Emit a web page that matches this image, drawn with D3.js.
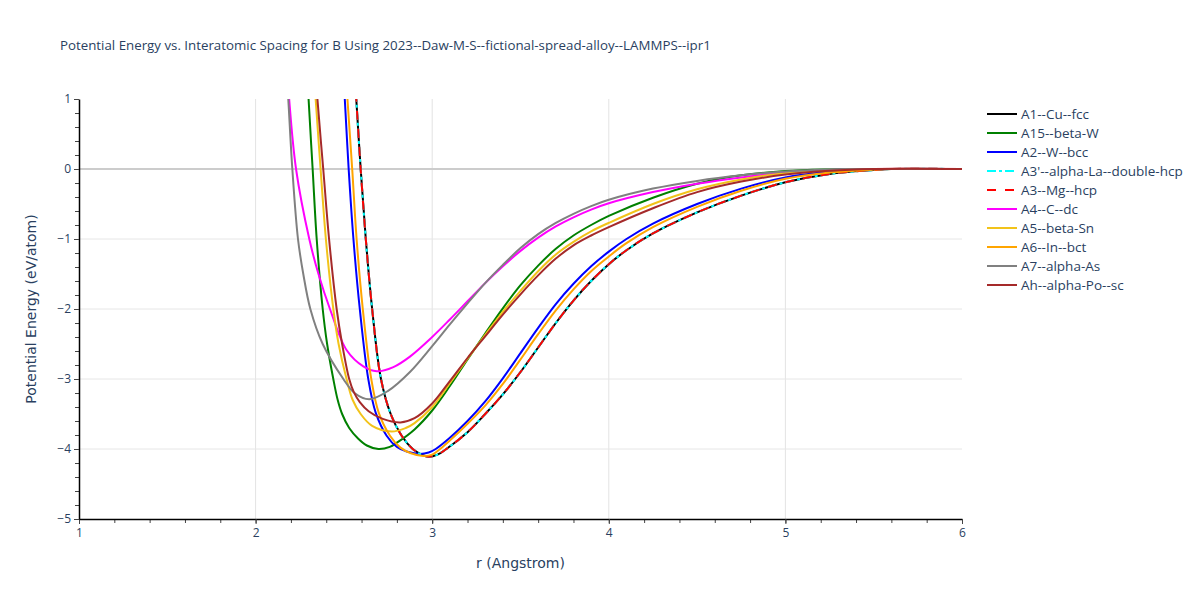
<!DOCTYPE html>
<html>
<head>
<meta charset="utf-8">
<script src="https://cdn.jsdelivr.net/npm/d3@7"></script>
<style>
  body { margin: 0; background: #fff; }
  text { font-family: "Open Sans", "Liberation Sans", sans-serif; fill: #2a3f5f; }
</style>
</head>
<body>
<script>
const w = 1200; // width
const h = 600;  // height
const m = {left: 79, right: 238, top: 99, bottom: 81};

// curve data, [r (Angstrom), energy (eV/atom)]
const cuFcc = [[2.555,1.6],[2.57,1.0],[2.595,0.0],[2.624,-1.0],[2.66,-2.0],[2.71,-3.0],[2.765,-3.5],[2.827,-3.81],[2.89,-4.0],[2.94,-4.08],[2.98,-4.11],[3.03,-4.08],[3.08,-4.0],[3.2,-3.76],[3.3,-3.5],[3.4,-3.22],[3.5,-2.9],[3.6,-2.55],[3.7,-2.2],[3.8,-1.88],[3.9,-1.6],[4.0,-1.36],[4.1,-1.16],[4.25,-0.92],[4.5,-0.62],[4.75,-0.38],[5.0,-0.19],[5.25,-0.07],[5.5,-0.015],[5.6,0],[6.0,0]];
const betaW = [[2.29,1.6],[2.30,1.0],[2.323,0.0],[2.346,-1.0],[2.38,-2.0],[2.405,-2.5],[2.44,-3.0],[2.465,-3.3],[2.49,-3.5],[2.53,-3.7],[2.58,-3.85],[2.63,-3.95],[2.695,-4.0],[2.76,-3.97],[2.8,-3.91],[2.9,-3.72],[3.0,-3.45],[3.1,-3.1],[3.2,-2.72],[3.3,-2.35],[3.4,-1.99],[3.5,-1.66],[3.6,-1.38],[3.7,-1.14],[3.8,-0.95],[3.9,-0.8],[4.0,-0.67],[4.25,-0.41],[4.5,-0.21],[4.75,-0.09],[5.0,-0.03],[5.25,-0.006],[5.4,0],[6.0,0]];
const wBcc = [[2.49,1.6],[2.505,1.0],[2.527,0.0],[2.554,-1.0],[2.59,-2.0],[2.638,-3.0],[2.68,-3.48],[2.742,-3.81],[2.8,-3.97],[2.86,-4.04],[2.93,-4.07],[2.98,-4.05],[3.02,-4.0],[3.1,-3.84],[3.2,-3.6],[3.3,-3.32],[3.4,-2.99],[3.5,-2.63],[3.6,-2.27],[3.7,-1.93],[3.8,-1.64],[3.9,-1.39],[4.0,-1.18],[4.1,-1.0],[4.25,-0.78],[4.5,-0.5],[4.75,-0.28],[5.0,-0.12],[5.25,-0.04],[5.5,-0.005],[5.6,0],[6.0,0]];
const laDhcp = cuFcc.map(d => d.slice());
const mgHcp = cuFcc.map(d => d.slice());
const cDc = [[2.175,1.6],[2.19,1.0],[2.229,0.0],[2.304,-1.0],[2.356,-1.5],[2.421,-2.0],[2.516,-2.59],[2.61,-2.82],[2.686,-2.89],[2.78,-2.83],[2.874,-2.68],[3.0,-2.4],[3.1,-2.15],[3.2,-1.89],[3.3,-1.63],[3.4,-1.39],[3.5,-1.17],[3.6,-0.98],[3.7,-0.82],[3.8,-0.69],[3.9,-0.58],[4.0,-0.49],[4.25,-0.33],[4.5,-0.21],[4.75,-0.12],[5.0,-0.055],[5.25,-0.015],[5.5,0],[6.0,0]];
const betaSn = [[2.325,1.6],[2.34,1.0],[2.368,0.0],[2.398,-1.0],[2.44,-2.0],[2.47,-2.5],[2.515,-3.0],[2.55,-3.3],[2.595,-3.5],[2.66,-3.67],[2.77,-3.75],[2.85,-3.7],[2.9,-3.63],[3.0,-3.4],[3.1,-3.06],[3.2,-2.71],[3.3,-2.37],[3.4,-2.04],[3.5,-1.74],[3.6,-1.46],[3.7,-1.22],[3.8,-1.04],[3.9,-0.89],[4.0,-0.77],[4.25,-0.5],[4.5,-0.29],[4.75,-0.15],[5.0,-0.06],[5.25,-0.02],[5.5,0],[6.0,0]];
const inBct = [[2.505,1.6],[2.52,1.0],[2.547,0.0],[2.572,-1.0],[2.607,-2.0],[2.655,-3.0],[2.697,-3.48],[2.761,-3.81],[2.82,-3.98],[2.88,-4.06],[2.95,-4.1],[3.0,-4.08],[3.045,-4.0],[3.1,-3.88],[3.2,-3.64],[3.3,-3.38],[3.4,-3.07],[3.5,-2.72],[3.6,-2.36],[3.7,-2.02],[3.8,-1.72],[3.9,-1.46],[4.0,-1.25],[4.1,-1.06],[4.25,-0.83],[4.5,-0.54],[4.75,-0.31],[5.0,-0.14],[5.25,-0.05],[5.5,-0.008],[5.6,0],[6.0,0]];
const alphaAs = [[2.17,1.6],[2.185,1.0],[2.208,0.0],[2.24,-1.0],[2.27,-1.5],[2.31,-2.0],[2.38,-2.5],[2.497,-3.0],[2.56,-3.2],[2.643,-3.29],[2.75,-3.17],[2.874,-2.9],[3.0,-2.53],[3.1,-2.22],[3.2,-1.92],[3.3,-1.63],[3.4,-1.37],[3.5,-1.13],[3.6,-0.93],[3.7,-0.77],[3.8,-0.64],[3.9,-0.53],[4.0,-0.44],[4.25,-0.28],[4.5,-0.17],[4.75,-0.09],[5.0,-0.035],[5.25,-0.008],[5.4,0],[6.0,0]];
const alphaPo = [[2.335,1.6],[2.35,1.0],[2.383,0.0],[2.416,-1.0],[2.459,-2.0],[2.49,-2.5],[2.53,-3.0],[2.555,-3.18],[2.59,-3.33],[2.64,-3.46],[2.72,-3.57],[2.82,-3.62],[2.9,-3.56],[3.0,-3.35],[3.1,-3.03],[3.2,-2.7],[3.3,-2.39],[3.4,-2.08],[3.5,-1.79],[3.6,-1.52],[3.7,-1.28],[3.8,-1.09],[3.9,-0.95],[4.0,-0.83],[4.25,-0.56],[4.5,-0.33],[4.75,-0.18],[5.0,-0.08],[5.25,-0.025],[5.5,0],[6.0,0]];

const names = ["A1--Cu--fcc", "A15--beta-W", "A2--W--bcc", "A3'--alpha-La--double-hcp", "A3--Mg--hcp",
               "A4--C--dc", "A5--beta-Sn", "A6--In--bct", "A7--alpha-As", "Ah--alpha-Po--sc"];
const colors = ["#000000", "#008000", "#0000ff", "#00ffff", "#ff0000", "#ff00ff", "#f2c31a", "#ffa500", "#808080", "#a52a2a"];
const dashes = [null, null, null, "9,3,3,3", "9,9", null, null, null, null, null];
const values = [cuFcc, betaW, wBcc, laDhcp, mgHcp, cDc, betaSn, inBct, alphaAs, alphaPo];

const xTicks = [1, 2, 3, 4, 5, 6];
const yTicks = [1, 0, -1, -2, -3, -4, -5];

let svg = d3.select("body")
    .append("svg")
    .attr("width", w)
    .attr("height", h);

// scales
let x = d3.scaleLinear().domain([1, 6]).range([m.left, w - m.right]);
let y = d3.scaleLinear().domain([-5, 1]).range([h - m.bottom, m.top]);

// grid
svg.append("g").selectAll("line")
    .data([2, 3, 4, 5])
    .enter().append("line")
    .attr("x1", d => x(d)).attr("x2", d => x(d))
    .attr("y1", y(1)).attr("y2", y(-5))
    .attr("stroke", "#e3e3e3").attr("stroke-width", 1);

svg.append("g").selectAll("line")
    .data([-1, -2, -3, -4])
    .enter().append("line")
    .attr("x1", x(1)).attr("x2", x(6))
    .attr("y1", d => y(d)).attr("y2", d => y(d))
    .attr("stroke", "#e6e6e6").attr("stroke-width", 1);

// zero line
svg.append("line")
    .attr("x1", x(1)).attr("x2", x(6))
    .attr("y1", y(0)).attr("y2", y(0))
    .attr("stroke", "#cccccc").attr("stroke-width", 2);

// clip
svg.append("clipPath").attr("id", "plot")
    .append("rect")
    .attr("x", x(1)).attr("y", y(1))
    .attr("width", x(6) - x(1)).attr("height", y(-5) - y(1));

let line = d3.line()
    .x(d => x(d[0]))
    .y(d => y(d[1]))
    .curve(d3.curveCatmullRom.alpha(0.5));

svg.append("g")
    .attr("clip-path", "url(#plot)")
    .selectAll("path")
    .data(values)
    .enter()
    .append("path")
    .attr("d", d => line(d))
    .attr("fill", "none")
    .attr("stroke", (d, i) => colors[i])
    .attr("stroke-width", 2)
    .attr("stroke-dasharray", (d, i) => dashes[i]);

// minor ticks
let xMinor = d3.range(1, 6.001, 0.2);
let yMinor = d3.range(-5, 1.001, 0.2);

svg.append("g")
    .attr("transform", `translate(0,${y(-5)})`)
    .call(d3.axisBottom(x).tickValues(xMinor).tickSize(4).tickFormat(""))
    .call(g => g.select(".domain").remove())
    .selectAll("line").attr("stroke", "#444");

svg.append("g")
    .attr("transform", `translate(${x(1)},0)`)
    .call(d3.axisLeft(y).tickValues(yMinor).tickSize(4).tickFormat(""))
    .call(g => g.select(".domain").remove())
    .selectAll("line").attr("stroke", "#444");

// x axis
let xAxis = svg.append("g")
    .attr("class", "x-axis")
    .attr("transform", `translate(0,${y(-5)})`)
    .call(d3.axisBottom(x).tickValues(xTicks).tickSize(5).tickSizeOuter(0).tickPadding(4).tickFormat(d3.format("d")));
xAxis.select(".domain").attr("stroke", "#000").attr("stroke-width", 1.5);
xAxis.selectAll("text").attr("font-size", 12).style("fill", "#2a3f5f");
xAxis.selectAll(".tick line").attr("stroke", "#444");

// y axis
let yAxis = svg.append("g")
    .attr("class", "y-axis")
    .attr("transform", `translate(${x(1)},0)`)
    .call(d3.axisLeft(y).tickValues(yTicks).tickSize(5).tickSizeOuter(0).tickPadding(3).tickFormat(d => d < 0 ? "\u2212" + Math.abs(d) : d));
yAxis.select(".domain").attr("stroke", "#000").attr("stroke-width", 1.5);
yAxis.selectAll("text").attr("font-size", 12).style("fill", "#2a3f5f");
yAxis.selectAll(".tick line").attr("stroke", "#444");

// axis labels
svg.append("text")
    .attr("text-anchor", "middle")
    .attr("x", (x(1) + x(6)) / 2)
    .attr("y", 568)
    .attr("font-size", 14)
    .style("font-family", "'DejaVu Sans', sans-serif")
    .text("r (Angstrom)");

svg.append("text")
    .attr("text-anchor", "middle")
    .attr("transform", `translate(36,${(y(1) + y(-5)) / 2}) rotate(-90)`)
    .attr("font-size", 14)
    .style("font-family", "'DejaVu Sans', sans-serif")
    .text("Potential Energy (eV/atom)");

// title
svg.append("text")
    .attr("x", 60)
    .attr("y", 50)
    .attr("font-size", 13.3)
    .text("Potential Energy vs. Interatomic Spacing for B Using 2023--Daw-M-S--fictional-spread-alloy--LAMMPS--ipr1");

// legend
let legend = svg.append("g")
    .selectAll("g")
    .data(names)
    .enter().append("g")
    .attr("transform", (d, i) => `translate(985,${114 + i * 19})`);

legend.append("line")
    .attr("x1", 2).attr("x2", 32)
    .attr("stroke", (d, i) => colors[i])
    .attr("stroke-width", 2)
    .attr("stroke-dasharray", (d, i) => dashes[i]);

legend.append("text")
    .attr("x", 36)
    .attr("dy", "0.35em")
    .attr("font-size", 13.5)
    .text(d => d);
</script>
</body>
</html>
